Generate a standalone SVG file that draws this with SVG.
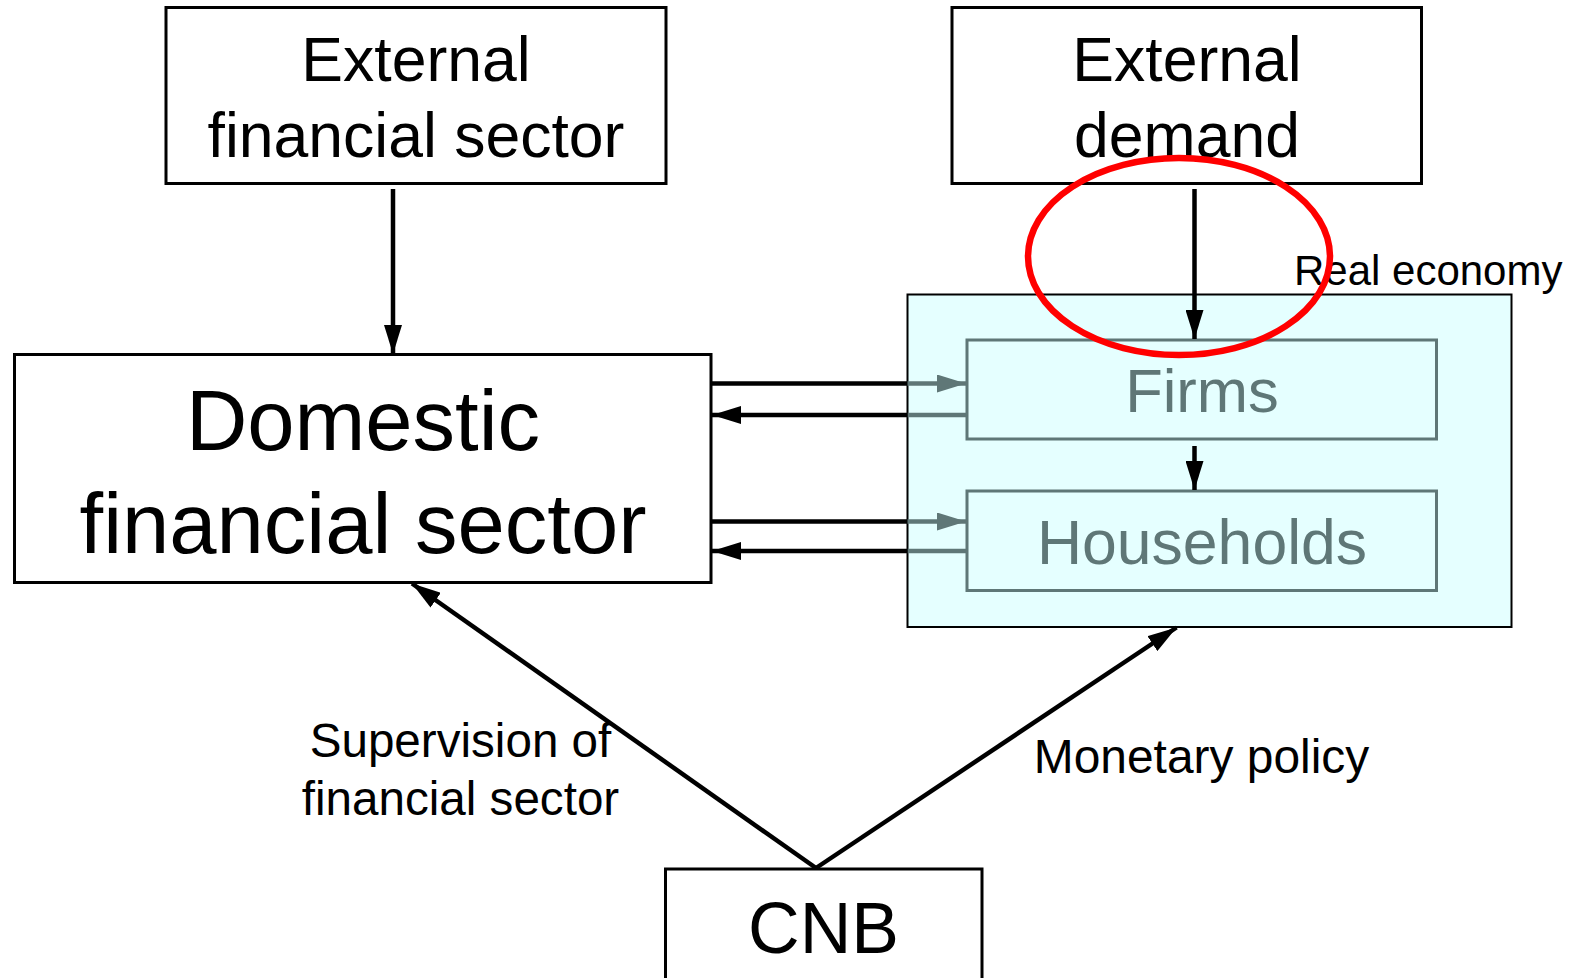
<svg xmlns="http://www.w3.org/2000/svg" width="1581" height="978" viewBox="0 0 1581 978">
<style>
text{font-family:"Liberation Sans",Arial,sans-serif;text-anchor:middle}
.box{fill:#fff;stroke:#000;stroke-width:3}
.sub{fill:#e5ffff;stroke:#5f7777;stroke-width:3}
.g{fill:#5f7777}
.ln{stroke:#000;stroke-width:4.5;fill:none}
.gl{stroke:#5f7777;stroke-width:4.5;fill:none}
</style>
<defs>
<marker id="ah" markerUnits="userSpaceOnUse" markerWidth="30" markerHeight="18" refX="29" refY="9" orient="auto"><path d="M0,0L29,9L0,18z" fill="#000"/></marker>
<marker id="ahg" markerUnits="userSpaceOnUse" markerWidth="30" markerHeight="18" refX="29" refY="9" orient="auto"><path d="M0,0L29,9L0,18z" fill="#5f7777"/></marker>
</defs>
<rect width="1581" height="978" fill="#fff"/>
<g id="real-economy">
<rect x="907.5" y="294.5" width="604" height="332.5" fill="#e5ffff" stroke="#000" stroke-width="2"/>
<text x="1294" y="285" font-size="42" style="text-anchor:start">Real economy</text>
</g>
<g id="ext-fin">
<rect class="box" x="166" y="7.5" width="500" height="176"/>
<text x="416" y="81" font-size="62.5">External</text>
<text x="416" y="157" font-size="62.5">financial sector</text>
</g>
<g id="ext-demand">
<rect class="box" x="952" y="7.5" width="469.5" height="176"/>
<text x="1187" y="81" font-size="62.5">External</text>
<text x="1187" y="157" font-size="62.5">demand</text>
</g>
<g id="domestic">
<rect class="box" x="14.5" y="354.5" width="696.5" height="228"/>
<text x="363" y="449.5" font-size="85">Domestic</text>
<text x="363" y="553" font-size="85">financial sector</text>
</g>
<g id="firms">
<rect class="sub" x="967" y="340" width="469.5" height="99"/>
<text class="g" x="1202" y="412" font-size="61.5">Firms</text>
</g>
<g id="households">
<rect class="sub" x="967" y="491" width="469.5" height="99.5"/>
<text class="g" x="1202" y="564" font-size="62.5">Households</text>
</g>
<g id="cnb">
<rect class="box" x="665.5" y="869" width="316.5" height="130"/>
<text x="823.5" y="953" font-size="71.5">CNB</text>
</g>
<g id="connectors">
<line class="ln" x1="393" y1="189" x2="393" y2="354" marker-end="url(#ah)"/>
<line class="ln" x1="1194.5" y1="189" x2="1194.5" y2="339" marker-end="url(#ah)"/>
<line class="ln" x1="1194.5" y1="446" x2="1194.5" y2="490" marker-end="url(#ah)"/>
<line class="ln" x1="711" y1="383.5" x2="907.5" y2="383.5"/>
<line class="gl" x1="907.5" y1="383.5" x2="966" y2="383.5" marker-end="url(#ahg)"/>
<line class="gl" x1="966" y1="415" x2="907.5" y2="415"/>
<line class="ln" x1="907.5" y1="415" x2="712" y2="415" marker-end="url(#ah)"/>
<line class="ln" x1="711" y1="521.5" x2="907.5" y2="521.5"/>
<line class="gl" x1="907.5" y1="521.5" x2="966" y2="521.5" marker-end="url(#ahg)"/>
<line class="gl" x1="966" y1="551" x2="907.5" y2="551"/>
<line class="ln" x1="907.5" y1="551" x2="712" y2="551" marker-end="url(#ah)"/>
<line class="ln" x1="816" y1="868" x2="412" y2="583.5" marker-end="url(#ah)"/>
<line class="ln" x1="816" y1="868" x2="1176.5" y2="627.5" marker-end="url(#ah)"/>
<text x="460.5" y="756.5" font-size="47.6">Supervision of</text>
<text x="460.5" y="815" font-size="47.6">financial sector</text>
<text x="1201.5" y="773" font-size="47.9">Monetary policy</text>
</g>
<ellipse id="highlight" cx="1179" cy="256.5" rx="151" ry="98.5" fill="none" stroke="#f00" stroke-width="6.5"/>
</svg>
